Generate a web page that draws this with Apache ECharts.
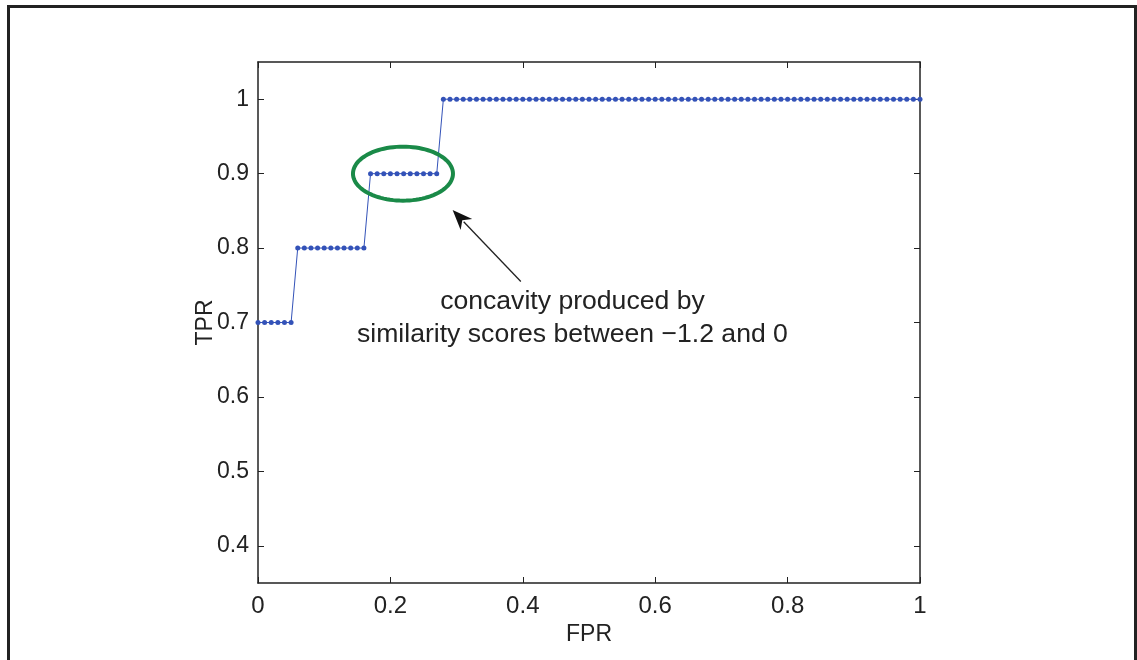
<!DOCTYPE html>
<html>
<head>
<meta charset="utf-8">
<script src="https://cdn.jsdelivr.net/npm/echarts@6/dist/echarts.min.js"></script>
<style>
html,body{margin:0;padding:0;background:#fff;}
#chart{width:1137px;height:660px;}
</style>
</head>
<body>
<div id="chart"></div>
<script>
// FPR values (x)
var fpr = [0.00,0.01,0.02,0.03,0.04,0.05,0.06,0.07,0.08,0.09,
  0.10,0.11,0.12,0.13,0.14,0.15,0.16,0.17,0.18,0.19,
  0.20,0.21,0.22,0.23,0.24,0.25,0.26,0.27,0.28,0.29,
  0.30,0.31,0.32,0.33,0.34,0.35,0.36,0.37,0.38,0.39,
  0.40,0.41,0.42,0.43,0.44,0.45,0.46,0.47,0.48,0.49,
  0.50,0.51,0.52,0.53,0.54,0.55,0.56,0.57,0.58,0.59,
  0.60,0.61,0.62,0.63,0.64,0.65,0.66,0.67,0.68,0.69,
  0.70,0.71,0.72,0.73,0.74,0.75,0.76,0.77,0.78,0.79,
  0.80,0.81,0.82,0.83,0.84,0.85,0.86,0.87,0.88,0.89,
  0.90,0.91,0.92,0.93,0.94,0.95,0.96,0.97,0.98,0.99,1.00];
// TPR values (y)
var tpr = [0.7,0.7,0.7,0.7,0.7,0.7,0.8,0.8,0.8,0.8,
  0.8,0.8,0.8,0.8,0.8,0.8,0.8,0.9,0.9,0.9,
  0.9,0.9,0.9,0.9,0.9,0.9,0.9,0.9,1,1,
  1,1,1,1,1,1,1,1,1,1,
  1,1,1,1,1,1,1,1,1,1,
  1,1,1,1,1,1,1,1,1,1,
  1,1,1,1,1,1,1,1,1,1,
  1,1,1,1,1,1,1,1,1,1,
  1,1,1,1,1,1,1,1,1,1,
  1,1,1,1,1,1,1,1,1,1,1];
var yTicks = [0.4,0.5,0.6,0.7,0.8,0.9,1.0];
var xTicks = [0,0.2,0.4,0.6,0.8,1];
var annotationLines = ['concavity produced by', 'similarity scores between \u22121.2 and 0'];
var ellipseCenter = [0.219, 0.9];
var arrowFrom = [0.397, 0.755];
var arrowTo = [0.294, 0.851];

var FONT = 'Liberation Sans, Arial, sans-serif';
var chart = echarts.init(document.getElementById('chart'), null, {renderer:'canvas'});
var pts = fpr.map(function(x,i){return [x, tpr[i]];});
function fmt(v){ return (Math.abs(v-1)<1e-9) ? '1' : (Math.abs(v)<1e-9 ? '0' : String(Math.round(v*10)/10)); }

var axisLineStyle = {color:'#222', width:1.5};
var option = {
  animation:false,
  backgroundColor:'#fff',
  grid:{left:258, top:62, right:217, bottom:77, containLabel:false},
  xAxis:[{
    type:'value', min:0, max:1, interval:0.2, position:'bottom',
    name:'FPR', nameLocation:'middle', nameGap:40,
    nameTextStyle:{fontFamily:FONT, fontSize:23, color:'#222'},
    axisLine:{show:true, onZero:false, lineStyle:axisLineStyle},
    axisTick:{show:true, inside:true, length:6, lineStyle:{color:'#222', width:1}},
    axisLabel:{fontFamily:FONT, fontSize:24, color:'#222', margin:11, formatter:fmt},
    splitLine:{show:false}
  },{
    type:'value', min:0, max:1, interval:0.2, position:'top',
    axisLine:{show:true, onZero:false, lineStyle:axisLineStyle},
    axisTick:{show:true, inside:true, length:6, lineStyle:{color:'#222', width:1}},
    axisLabel:{show:false}, splitLine:{show:false}
  }],
  yAxis:[{
    type:'value', min:0.35, max:1.05, position:'left',
    name:'TPR', nameLocation:'middle', nameGap:41, nameRotate:90, nameMoveOverlap:false,
    nameTextStyle:{fontFamily:FONT, fontSize:23, color:'#222'},
    axisLine:{show:true, onZero:false, lineStyle:axisLineStyle},
    axisTick:{show:true, inside:true, length:6, customValues:yTicks, lineStyle:{color:'#222', width:1}},
    axisLabel:{fontFamily:FONT, fontSize:23, color:'#222', margin:9, customValues:yTicks, formatter:fmt},
    splitLine:{show:false}
  },{
    type:'value', min:0.35, max:1.05, position:'right',
    axisLine:{show:true, onZero:false, lineStyle:axisLineStyle},
    axisTick:{show:true, inside:true, length:6, customValues:yTicks, lineStyle:{color:'#222', width:1}},
    axisLabel:{show:false, customValues:yTicks}, splitLine:{show:false}
  }],
  series:[{
    type:'line', data:pts, xAxisIndex:0, yAxisIndex:0,
    symbol:'circle', symbolSize:5, showSymbol:true,
    lineStyle:{color:'#3352b8', width:1},
    itemStyle:{color:'#3352b8'},
    z:3
  }]
};
chart.setOption(option);

function drawGraphics(){
  var c = chart.convertToPixel({xAxisIndex:0, yAxisIndex:0}, ellipseCenter);
  var rx = 50, ry = 27;
  var poly = [];
  for (var k=0;k<=96;k++){ var a = k/96*Math.PI*2; poly.push([c[0]+rx*Math.cos(a), c[1]+ry*Math.sin(a)]); }
  var p0 = chart.convertToPixel({xAxisIndex:0, yAxisIndex:0}, arrowFrom);
  var p1 = chart.convertToPixel({xAxisIndex:0, yAxisIndex:0}, arrowTo);
  var dx = p1[0]-p0[0], dy = p1[1]-p0[1], L = Math.sqrt(dx*dx+dy*dy);
  var ux = dx/L, uy = dy/L, hl = 20, hw = 8;
  var base = [p1[0]-ux*hl, p1[1]-uy*hl];
  var head = [p1, [base[0]-uy*hw, base[1]+ux*hw], [p1[0]-ux*hl*0.7, p1[1]-uy*hl*0.7], [base[0]+uy*hw, base[1]-ux*hw]];
  var t1 = chart.convertToPixel({xAxisIndex:0, yAxisIndex:0}, [0.475, 0.665]);
  chart.setOption({graphic:[
    {type:'rect', shape:{x:8.5, y:6.5, width:1127, height:700}, style:{fill:null, stroke:'#222', lineWidth:3}, silent:true, z:0},
    {type:'polygon', shape:{points:poly}, style:{fill:null, stroke:'#1a8a48', lineWidth:4}, silent:true, z:10},
    {type:'line', shape:{x1:p0[0], y1:p0[1], x2:base[0]+ux*4, y2:base[1]+uy*4}, style:{stroke:'#222', lineWidth:1.3}, silent:true, z:10},
    {type:'polygon', shape:{points:head}, style:{fill:'#111', stroke:null}, silent:true, z:10},
    {type:'text', x:t1[0], y:302, style:{text:annotationLines[0], font:'26.6px '+FONT, fill:'#222', align:'center', verticalAlign:'middle'}, silent:true, z:10},
    {type:'text', x:t1[0], y:335, style:{text:annotationLines[1], font:'26.6px '+FONT, fill:'#222', align:'center', verticalAlign:'middle'}, silent:true, z:10}
  ]});
}
drawGraphics();
</script>
</body>
</html>
